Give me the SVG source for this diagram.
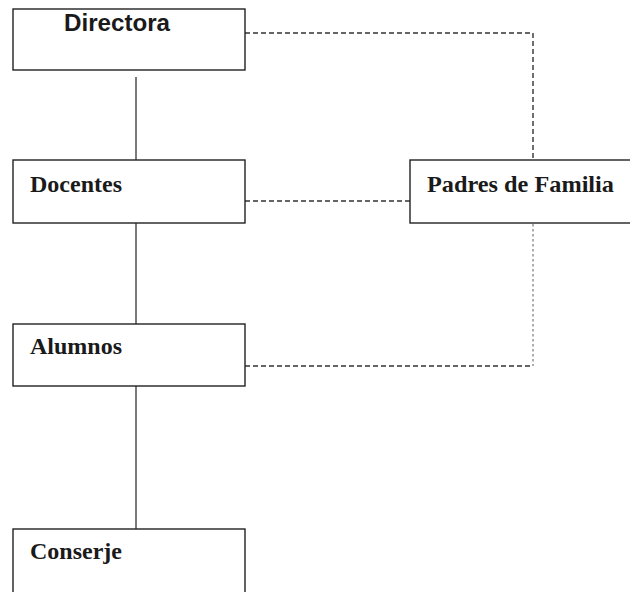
<svg xmlns="http://www.w3.org/2000/svg" width="630" height="592" viewBox="0 0 630 592">
<style>
.box{fill:#fff;stroke:#222;stroke-width:1.4}
.serif{font-family:"Liberation Serif","Times New Roman",serif;font-weight:bold;font-size:24px;fill:#1a1a1a}
.sans{font-family:"Liberation Sans",Arial,sans-serif;font-weight:bold;font-size:23px;fill:#1a1a1a}
.solid{fill:none;stroke:#333;stroke-width:1.3}
.dash{fill:none;stroke:#333;stroke-width:1.4;stroke-dasharray:5 3}
.dot{fill:none;stroke:#999;stroke-width:1.6;stroke-dasharray:2.5 2.5}
</style>
<rect width="630" height="592" fill="#fff"/>
<g id="connectors">
<line class="solid" x1="136" y1="77" x2="136" y2="160" stroke="#555"/>
<line class="solid" x1="136" y1="220" x2="136" y2="324"/>
<line class="solid" x1="136" y1="386" x2="136" y2="529"/>
<polyline class="dash" points="245,33 533,33 533,160"/>
<line class="dash" x1="245" y1="201" x2="410" y2="201"/>
<line class="dot" x1="533" y1="224" x2="533" y2="366"/>
<line class="dash" x1="245" y1="366" x2="531" y2="366"/>
</g>
<g id="directora">
<rect class="box" x="13" y="9" width="232" height="61"/>
<text class="sans" x="64" y="30.5" textLength="106" lengthAdjust="spacingAndGlyphs">Directora</text>
</g>
<g id="docentes">
<rect class="box" x="13" y="160" width="232" height="63"/>
<text class="serif" x="30" y="192">Docentes</text>
</g>
<g id="padres">
<rect class="box" x="410" y="160" width="240" height="63"/>
<text class="serif" x="427" y="192" textLength="187" lengthAdjust="spacingAndGlyphs">Padres de Familia</text>
</g>
<g id="alumnos">
<rect class="box" x="13" y="324" width="232" height="62"/>
<text class="serif" x="30" y="354">Alumnos</text>
</g>
<g id="conserje">
<rect class="box" x="13" y="529" width="232" height="70"/>
<text class="serif" x="30" y="559">Conserje</text>
</g>
</svg>
